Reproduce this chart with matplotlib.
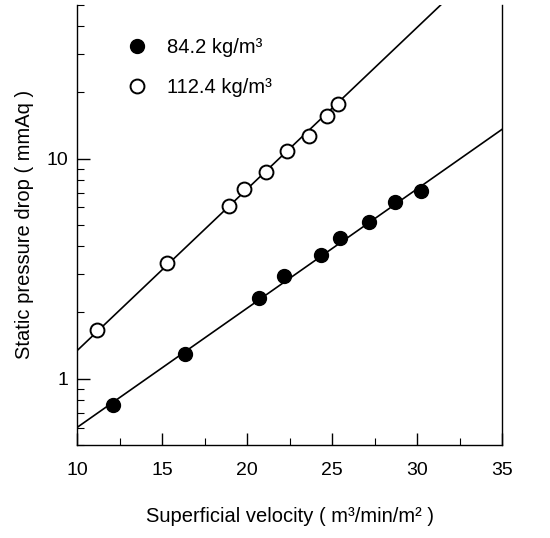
import matplotlib
matplotlib.use("Agg")
import matplotlib.pyplot as plt
from matplotlib.ticker import FixedLocator, NullFormatter, LogLocator

plt.rcParams['font.family'] = ['Liberation Sans', 'DejaVu Sans']

# Data
x_842 = [12.1, 16.35, 20.7, 22.15, 24.35, 25.45, 27.15, 28.7, 30.25]
y_842 = [0.76, 1.30, 2.33, 2.93, 3.66, 4.36, 5.17, 6.38, 7.16]
x_1124 = [11.2, 15.3, 18.95, 19.8, 21.1, 22.35, 23.65, 24.7, 25.35]
y_1124 = [1.66, 3.34, 6.07, 7.25, 8.74, 10.8, 12.7, 15.7, 17.7]

# Fitted lines (end points)
fit_x = [10, 35]
fit_842 = [0.60, 13.6]
fit_1124 = [1.34, 92.0]

labels = ['84.2 kg/m³', '112.4 kg/m³']
x_ticks = [10, 15, 20, 25, 30, 35]
y_ticks = [1, 10]

fig = plt.figure(figsize=(5.5, 5.38), dpi=100)
ax = fig.add_axes([0.140, 0.173, 0.773, 0.818])

ax.plot(fit_x, fit_842, color='black', lw=1.2, zorder=1)
ax.plot(fit_x, fit_1124, color='black', lw=1.2, zorder=1)
ax.plot(x_842, y_842, 'o', ms=10, mfc='black', mec='black', ls='none',
        label=labels[0], zorder=3)
ax.plot(x_1124, y_1124, 'o', ms=10, mfc='white', mec='black', mew=1.4,
        ls='none', label=labels[1], zorder=3)

ax.set_yscale('log')
ax.set_xlim(10, 35)
ax.set_ylim(0.5, 50)
ax.xaxis.set_major_locator(FixedLocator(x_ticks))
ax.xaxis.set_minor_locator(FixedLocator([12.5, 17.5, 22.5, 27.5, 32.5]))
ax.yaxis.set_major_locator(FixedLocator(y_ticks))
ax.yaxis.set_minor_locator(LogLocator(base=10, subs=range(2, 10)))
ax.yaxis.set_minor_formatter(NullFormatter())
ax.set_xticklabels([str(t) for t in x_ticks], fontsize=14)
ax.set_yticklabels([str(t) for t in y_ticks], fontsize=14)

ax.tick_params(which='major', direction='in', length=9, width=1.0,
               top=False, right=False)
ax.tick_params(axis='x', which='major', pad=12)
ax.tick_params(axis='y', which='major', pad=6)
ax.tick_params(which='minor', direction='in', length=5, width=0.8,
               top=False, right=False)

ax.spines['top'].set_visible(False)
for s in ['left', 'right', 'bottom']:
    ax.spines[s].set_linewidth(1.0)

ax.set_xlabel('Superficial velocity ( m³/min/m² )', fontsize=14.5)
ax.set_ylabel('Static pressure drop ( mmAq )', fontsize=14.5)
ax.xaxis.set_label_coords(0.5, -0.142)
ax.yaxis.set_label_coords(-0.101, 0.5)

ax.legend(loc='upper left', bbox_to_anchor=(0.098, 0.943), frameon=False,
          fontsize=14.5, handlelength=1.0, handletextpad=1.0,
          labelspacing=1.05, borderaxespad=0)

fig.savefig('out.png', dpi=100)
